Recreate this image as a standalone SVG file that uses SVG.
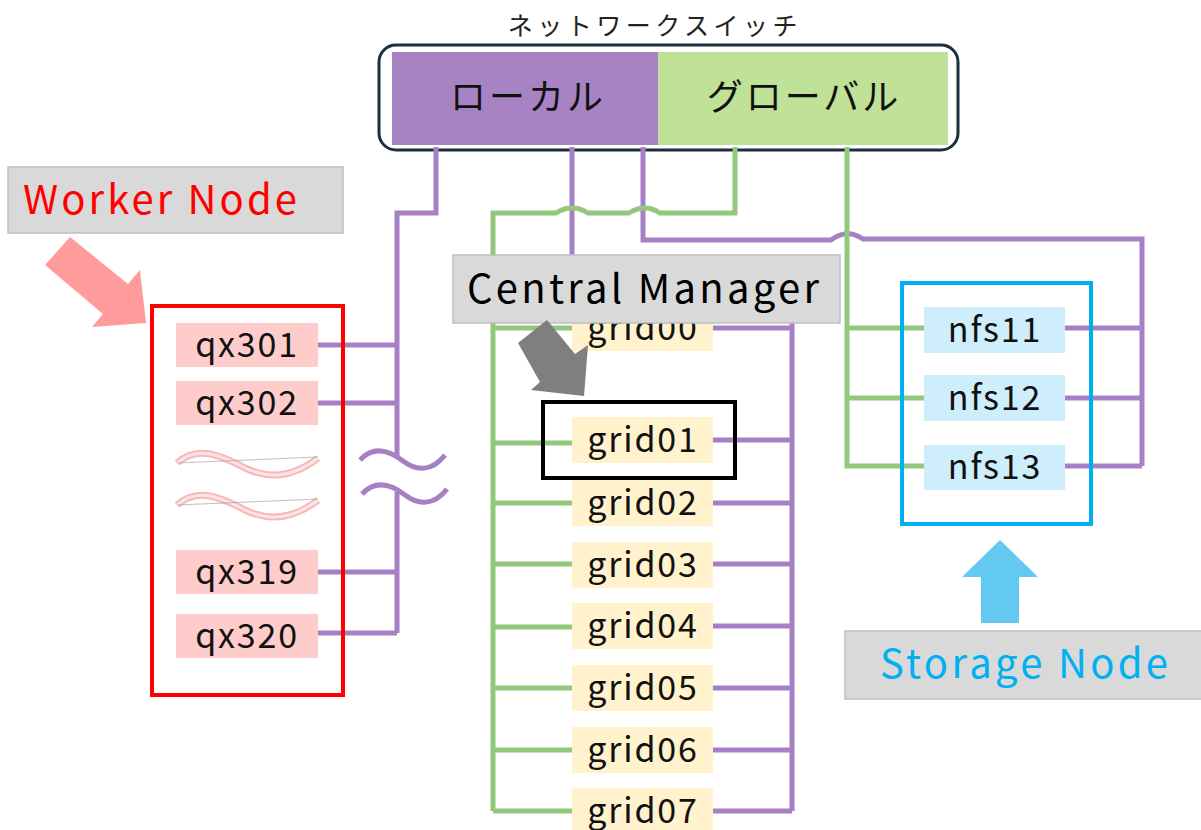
<svg xmlns="http://www.w3.org/2000/svg" width="1201" height="830" viewBox="0 0 1201 830">
  <style>
    text { font-family: "Noto Sans CJK JP", "Noto Sans", sans-serif; }
    .lan { fill: none; stroke: #a580c4; stroke-width: 5; stroke-linejoin: miter; }
    .wan { fill: none; stroke: #92c87c; stroke-width: 5; stroke-linejoin: miter; }
    .host { font-size: 34px; fill: #111; text-anchor: middle; letter-spacing: 1.8px; }
    .worker { fill: #ffcccc; }
    .grid { fill: #fff2cc; }
    .nfs { fill: #cdeefa; }
    .callout { fill: #d9d9d9; stroke: #bfbfbf; stroke-width: 1.5; }
    .callout-text { font-size: 40px; }
  </style>

  <!-- network switch -->
  <g id="switch">
    <text x="655" y="35" font-size="25" text-anchor="middle" fill="#222" letter-spacing="4.5">ネットワークスイッチ</text>
    <rect x="379" y="45" width="579" height="105" rx="17" fill="#fff" stroke="#1b2f3c" stroke-width="3"/>
    <rect x="392" y="52" width="266" height="93" fill="#a883c3"/>
    <rect x="658" y="52" width="290" height="93" fill="#bfe198"/>
    <text x="528" y="110" font-size="36" text-anchor="middle" fill="#111" letter-spacing="3">ローカル</text>
    <text x="804" y="110" font-size="36" text-anchor="middle" fill="#111" letter-spacing="3">グローバル</text>
  </g>

  <!-- cabling -->
  <g id="connectors">
    <!-- local (purple) network -->
    <path class="lan" d="M436,147 V213 H397 V458"/>
    <path class="lan" d="M397,492 V633"/>
    <path class="lan" d="M318,345 H397 M318,403 H397 M318,572 H397 M318,633 H397"/>
    <path class="lan" d="M572,147 V290 H792 V811"/>
    <path class="lan" d="M713,328 H792 M713,440 H792 M713,503 H792 M713,564 H792 M713,626 H792 M713,688 H792 M713,750 H792 M713,811 H792"/>
    <path class="lan" d="M643,147 V240 H831 Q847,228 863,239 H1142 V466"/>
    <path class="lan" d="M1065,328 H1142 M1065,398 H1142 M1065,466 H1142"/>
    <!-- line break marks on the worker bus -->
    <path class="lan" d="M360,460 C374,445 390,451 403,461 S432,472 445,455"/>
    <path class="lan" d="M362,494 C376,479 392,485 405,495 S434,506 447,489"/>
    <!-- global (green) network -->
    <path class="wan" d="M735,147 V213 H660 Q645,203 629,213 H588 Q572,203 556,213 H493 V811"/>
    <path class="wan" d="M493,328 H572 M493,443 H572 M493,503 H572 M493,564 H572 M493,627 H572 M493,688 H572 M493,750 H572 M493,811 H572"/>
    <path class="wan" d="M847,147 V466 H924 M847,328 H924 M847,398 H924"/>
  </g>

  <!-- worker nodes -->
  <g id="worker-group">
    <rect x="152" y="306" width="191" height="389" fill="none" stroke="#ff0000" stroke-width="4"/>
  </g>
  <g id="qx301"><rect class="worker" x="176" y="323" width="142" height="44"/><text class="host" x="247" y="357">qx301</text></g>
  <g id="qx302"><rect class="worker" x="176" y="381" width="142" height="44"/><text class="host" x="247" y="415">qx302</text></g>
  <g id="worker-omitted">
    <path d="M177,463 C195,447 215,452 245,468 C270,480 295,476 318,458" fill="none" stroke="#f6b9b9" stroke-width="7"/>
    <path d="M177,463 C195,447 215,452 245,468 C270,480 295,476 318,458" fill="none" stroke="#fde3e3" stroke-width="3"/>
    <line x1="177" y1="463" x2="318" y2="457" stroke="#999" stroke-width="1" opacity="0.6"/>
    <path d="M177,505 C195,489 215,494 245,510 C270,522 295,518 318,500" fill="none" stroke="#f6b9b9" stroke-width="7"/>
    <path d="M177,505 C195,489 215,494 245,510 C270,522 295,518 318,500" fill="none" stroke="#fde3e3" stroke-width="3"/>
    <line x1="177" y1="505" x2="318" y2="499" stroke="#999" stroke-width="1" opacity="0.6"/>
  </g>
  <g id="qx319"><rect class="worker" x="176" y="550" width="142" height="44"/><text class="host" x="247" y="584">qx319</text></g>
  <g id="qx320"><rect class="worker" x="176" y="614" width="142" height="44"/><text class="host" x="247" y="648">qx320</text></g>

  <!-- grid nodes -->
  <g id="grid00"><rect class="grid" x="572" y="305" width="141" height="46"/><text class="host" x="643" y="340">grid00</text></g>
  <g id="grid01"><rect class="grid" x="572" y="417" width="141" height="46"/><text class="host" x="643" y="452">grid01</text></g>
  <g id="grid02"><rect class="grid" x="572" y="480" width="141" height="46"/><text class="host" x="643" y="515">grid02</text></g>
  <g id="grid03"><rect class="grid" x="572" y="542" width="141" height="46"/><text class="host" x="643" y="577">grid03</text></g>
  <g id="grid04"><rect class="grid" x="572" y="603" width="141" height="46"/><text class="host" x="643" y="638">grid04</text></g>
  <g id="grid05"><rect class="grid" x="572" y="665" width="141" height="46"/><text class="host" x="643" y="700">grid05</text></g>
  <g id="grid06"><rect class="grid" x="572" y="727" width="141" height="46"/><text class="host" x="643" y="762">grid06</text></g>
  <g id="grid07"><rect class="grid" x="572" y="788" width="141" height="46"/><text class="host" x="643" y="823">grid07</text></g>
  <g id="manager-frame">
    <rect x="543" y="402" width="192" height="76" fill="none" stroke="#000" stroke-width="4"/>
  </g>

  <!-- storage nodes -->
  <g id="storage-group">
    <rect x="902" y="283" width="189" height="241" fill="none" stroke="#00b0f0" stroke-width="4"/>
  </g>
  <g id="nfs11"><rect class="nfs" x="924" y="307" width="141" height="46"/><text class="host" x="995" y="342">nfs11</text></g>
  <g id="nfs12"><rect class="nfs" x="924" y="375" width="141" height="46"/><text class="host" x="995" y="410">nfs12</text></g>
  <g id="nfs13"><rect class="nfs" x="924" y="445" width="141" height="45"/><text class="host" x="995" y="479">nfs13</text></g>

  <!-- callouts -->
  <g id="worker-label">
    <rect class="callout" x="8" y="167" width="335" height="66"/>
    <text class="callout-text" x="23" y="214" fill="#ff0000" textLength="274" lengthAdjust="spacing">Worker Node</text>
    <polygon points="70,237 128,284 140,270 146,323 92,327 103,314 45,265" fill="#ff9b9b"/>
  </g>
  <g id="manager-label">
    <rect class="callout" x="453" y="255" width="387" height="68"/>
    <text class="callout-text" x="467" y="303" fill="#000" textLength="352" lengthAdjust="spacing">Central Manager</text>
    <polygon points="547,320 575,354 588,345 584,396 531,390 540,382 518,343" fill="#7f7f7f"/>
  </g>
  <g id="storage-label">
    <polygon points="1000,540 1038,577 1019,577 1019,623 981,623 981,577 962,577" fill="#63c9f1"/>
    <rect class="callout" x="845" y="631" width="360" height="68"/>
    <text class="callout-text" x="880" y="678" fill="#00b0f0" textLength="288" lengthAdjust="spacing">Storage Node</text>
  </g>
</svg>
